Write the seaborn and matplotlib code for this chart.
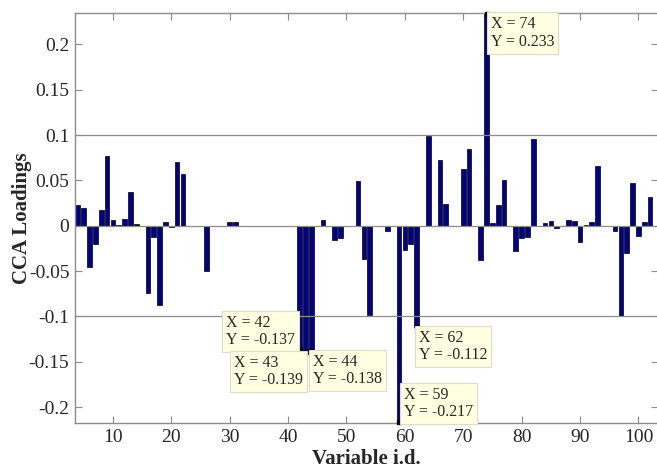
import numpy as np
import pandas as pd
import seaborn as sns
import matplotlib
matplotlib.use("Agg")
import matplotlib.pyplot as plt

# CCA loadings per variable (ids 4..102)
var_ids = list(range(4, 103))
loadings = [
    0.023, 0.019, -0.045, -0.020, 0.017, 0.077, 0.006, 0.001, 0.007, 0.037,   # 4-13
    0.002, 0.0, -0.074, -0.012, -0.087, 0.004, -0.001, 0.070, 0.057, 0.0,     # 14-23
    0.0, 0.0, -0.050, 0.0, 0.0, 0.0, 0.004, 0.004, 0.0, 0.0,                  # 24-33
    0.0, 0.0, 0.0, 0.0, 0.0, 0.0, 0.0, 0.0, -0.137, -0.139,                   # 34-43
    -0.138, 0.0, 0.006, 0.0, -0.016, -0.014, 0.0, 0.0, 0.049, -0.037,         # 44-53
    -0.098, 0.0, 0.0, -0.006, 0.0, -0.217, -0.027, -0.020, -0.112, 0.0,       # 54-63
    0.099, 0.0, 0.072, 0.024, 0.0, 0.0, 0.063, 0.085, 0.0, -0.038,            # 64-73
    0.233, 0.003, 0.023, 0.050, 0.0, -0.028, -0.014, -0.012, 0.096, 0.0,      # 74-83
    0.003, 0.005, -0.002, 0.0, 0.006, 0.005, -0.018, 0.001, 0.004, 0.066,     # 84-93
    0.0, 0.0, -0.006, -0.100, -0.030, 0.047, -0.011, 0.004, 0.032,            # 94-102
]

# data tips shown on the chart
tip_ids = [74, 42, 43, 44, 62, 59]
tip_vals = [0.233, -0.137, -0.139, -0.138, -0.112, -0.217]

xticks = [10, 20, 30, 40, 50, 60, 70, 80, 90, 100]
yticks = [-0.2, -0.15, -0.1, -0.05, 0, 0.05, 0.1, 0.15, 0.2]
ytick_labels = ['-0.2', '-0.15', '-0.1', '-0.05', '0', '0.05', '0.1', '0.15', '0.2']

df = pd.DataFrame({'var': var_ids, 'loading': loadings})

sns.set_style("white")
plt.rcParams['font.family'] = ['Liberation Serif', 'DejaVu Serif']

fig = plt.figure(figsize=(6.57, 4.68), dpi=100)
ax = fig.add_axes([0.114, 0.096, 0.888, 0.876])

sns.barplot(data=df, x='var', y='loading', native_scale=True, width=0.8,
            color='#000088', edgecolor='black', linewidth=0.5, saturation=1,
            ax=ax, zorder=2)

# baseline and the lines at +/-0.1
for yv in [-0.1, 0.0, 0.1]:
    ax.axhline(yv, color='#8c8c8c', lw=0.9, zorder=3)

ax.set_xlim(3.5, 103.4)
ax.set_ylim(-0.2177, 0.2345)
ax.set_xticks(xticks)
ax.set_xticklabels([str(t) for t in xticks])
ax.set_yticks(yticks)
ax.set_yticklabels(ytick_labels)
ax.tick_params(direction='in', length=5, color='#8c8c8c', labelsize=14,
               top=True, right=True, bottom=True, left=True, pad=4)
for s in ax.spines.values():
    s.set_color('#8c8c8c')
    s.set_linewidth(1.0)

ax.set_xlabel('Variable i.d.', fontsize=15, fontweight='bold')
ax.set_ylabel('CCA Loadings', fontsize=15, fontweight='bold')
ax.xaxis.set_label_coords(0.5, -0.063)
ax.yaxis.set_label_coords(-0.073, 0.5)

# data tip boxes: (offset in pixels, alignment)
tip_layout = {
    74: ((4, -2), 'left', 'top'),
    42: ((-5, 2), 'right', 'bottom'),
    43: ((-3, -3), 'right', 'top'),
    44: ((2, -3), 'left', 'top'),
    62: ((2, -3), 'left', 'top'),
    59: ((5, 2), 'left', 'bottom'),
}
for xi, yi in zip(tip_ids, tip_vals):
    off, ha, va = tip_layout[xi]
    ax.plot([xi], [yi], marker='s', ms=3.5, color='black', zorder=5, clip_on=False)
    ax.annotate(f'X = {xi}\nY = {yi:g}', xy=(xi, yi), xytext=off,
                textcoords='offset pixels', ha=ha, va=va, multialignment='left',
                fontsize=11.5, linespacing=1.1, zorder=6,
                bbox=dict(boxstyle='square,pad=0.25', fc='#ffffe1', ec='#dcdcc8', lw=0.8))

fig.savefig('out.png', dpi=100)
